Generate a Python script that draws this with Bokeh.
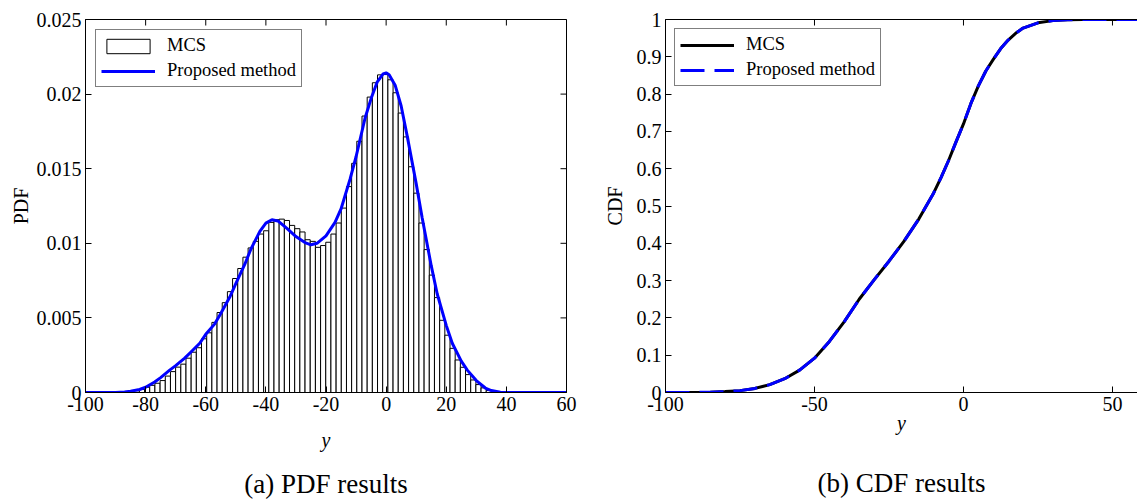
import math
from bokeh.plotting import figure
from bokeh.layouts import row
from bokeh.models import LinearAxis, FixedTicker, Range1d, Legend, LegendItem
from bokeh.embed import file_html
from bokeh.resources import INLINE

FONT = "Liberation Serif"

# ---------------- data ----------------
# MCS histogram (normalised), bin centres and heights
hist_centers = [-89.82, -88.10, -86.38, -84.66, -82.94, -81.21, -79.49, -77.77, -76.05, -74.32,
                -72.60, -70.88, -69.16, -67.43, -65.71, -63.99, -62.27, -60.55, -58.82, -57.10,
                -55.38, -53.66, -51.94, -50.21, -48.49, -46.77, -45.05, -43.33, -41.60, -39.88,
                -38.16, -36.44, -34.72, -32.99, -31.27, -29.55, -27.83, -26.11, -24.38, -22.66,
                -20.94, -19.22, -17.50, -15.77, -14.05, -12.33, -10.61, -8.89, -7.16, -5.44,
                -3.72, -2.00, -0.28, 1.45, 3.17, 4.89, 6.61, 8.33, 10.06, 11.78,
                13.50, 15.22, 16.94, 18.67, 20.39, 22.11, 23.83, 25.55, 27.28, 29.00,
                30.72, 32.44, 34.16, 35.89, 37.61]
hist_pdf = [0.0, 0.00001, 0.00003, 0.00006, 0.00012, 0.00020, 0.00035, 0.00048, 0.00062, 0.00080,
            0.00110, 0.00140, 0.00170, 0.00190, 0.00230, 0.00270, 0.00300, 0.00360, 0.00400, 0.00470,
            0.00536, 0.00602, 0.00676, 0.00764, 0.00831, 0.00907, 0.00969, 0.01013, 0.01062, 0.01084,
            0.01140, 0.01158, 0.01162, 0.01153, 0.01120, 0.01098, 0.01076, 0.01024, 0.01013, 0.00973,
            0.00985, 0.01007, 0.01062, 0.01136, 0.01236, 0.01380, 0.01536, 0.01684, 0.01853, 0.01980,
            0.02076, 0.02129, 0.02131, 0.02096, 0.02009, 0.01873, 0.01713, 0.01513, 0.01336, 0.01136,
            0.00958, 0.00787, 0.00636, 0.00484, 0.00384, 0.00296, 0.00218, 0.00169, 0.00120, 0.00084,
            0.00053, 0.00031, 0.00013, 0.00004, 0.00001]
BIN_WIDTH = 1.722

# Proposed method PDF
pdf_x = [-100, -90, -87, -85, -82, -80, -77, -75, -72, -70,
         -67, -65, -62, -60, -57, -55, -52, -50, -47, -45,
         -42, -40, -38, -36, -33, -30, -27, -25, -23, -20,
         -17, -15, -12, -10, -7, -5, -3, -1, 0, 1,
         3, 5, 7, 10, 12, 15, 17, 20, 22, 25,
         27, 30, 33, 35, 38, 40, 50, 60]
pdf_y = [0, 0, 0.00003, 0.00008, 0.0002, 0.00035, 0.0007, 0.001, 0.0015, 0.0018,
         0.0023, 0.0027, 0.0033, 0.0039, 0.0046, 0.0053, 0.0064, 0.0073, 0.0086, 0.0096,
         0.0108, 0.01135, 0.01158, 0.0115, 0.0110, 0.01045, 0.01005, 0.0099, 0.0100, 0.0105,
         0.0114, 0.0123, 0.0143, 0.0158, 0.0184, 0.0197, 0.0208, 0.02135, 0.02142, 0.0213,
         0.0206, 0.0192, 0.0172, 0.0140, 0.0117, 0.0085, 0.0066, 0.0045, 0.0033, 0.0021,
         0.0015, 0.0008, 0.0003, 0.00013, 0.00002, 0, 0, 0]

# CDF curves
cdf_x = [-100, -90, -85, -80, -75, -70, -65, -60, -55, -50,
         -45, -40, -35, -30, -25, -20, -15, -10, -7.5, -5,
         -2.5, 0, 2.5, 5, 7.5, 10, 12.5, 15, 17.5, 20,
         25, 30, 35, 40, 60]
cdf_mcs = [0, 0.0003, 0.001, 0.0025, 0.005, 0.011, 0.021, 0.037, 0.06, 0.092,
           0.137, 0.19, 0.25, 0.302, 0.352, 0.405, 0.465, 0.535, 0.577, 0.622,
           0.672, 0.72, 0.775, 0.822, 0.862, 0.893, 0.922, 0.945, 0.963, 0.977,
           0.991, 0.997, 0.9995, 1.0, 1.0]
cdf_proposed = [0, 0.0003, 0.001, 0.0025, 0.005, 0.011, 0.021, 0.037, 0.06, 0.092,
                0.137, 0.19, 0.25, 0.302, 0.352, 0.405, 0.465, 0.535, 0.577, 0.622,
                0.672, 0.72, 0.775, 0.822, 0.862, 0.893, 0.922, 0.945, 0.963, 0.977,
                0.991, 0.997, 0.9995, 1.0, 1.0]

# ticks
pdf_xlim = (-100, 60)
pdf_ylim = (0, 0.025)
pdf_xticks = [-100, -80, -60, -40, -20, 0, 20, 40, 60]
pdf_xtick_labels = ["-100", "-80", "-60", "-40", "-20", "0", "20", "40", "60"]
pdf_yticks = [0, 0.005, 0.01, 0.015, 0.02, 0.025]
pdf_ytick_labels = ["0", "0.005", "0.01", "0.015", "0.02", "0.025"]
cdf_xlim = (-100, 58.4)
cdf_ylim = (0, 1)
cdf_xticks = [-100, -50, 0, 50]
cdf_xtick_labels = ["-100", "-50", "0", "50"]
cdf_yticks = [0, 0.1, 0.2, 0.3, 0.4, 0.5, 0.6, 0.7, 0.8, 0.9, 1]
cdf_ytick_labels = ["0", "0.1", "0.2", "0.3", "0.4", "0.5", "0.6", "0.7", "0.8", "0.9", "1"]


def style_axis(ax, ticks, labels):
    ax.ticker = FixedTicker(ticks=ticks)
    ax.major_tick_in = 6
    ax.major_tick_out = 0
    ax.minor_tick_in = 0
    ax.minor_tick_out = 0
    ax.axis_line_color = "black"
    ax.axis_line_width = 1
    ax.major_tick_line_color = "black"
    ax.major_tick_line_width = 1
    ax.major_label_text_font = FONT
    ax.major_label_text_color = "black"
    ax.major_label_text_font_size = "20px"
    ax.major_label_standoff = 4
    ax.major_label_overrides = {t: l for t, l in zip(ticks, labels)}
    ax.axis_label_text_font = FONT
    ax.axis_label_text_font_size = "20px"
    ax.axis_label_text_color = "black"


def add_caption(p, text, standoff):
    cap = LinearAxis(ticker=FixedTicker(ticks=[]), axis_line_color=None,
                     major_tick_line_color=None, minor_tick_line_color=None,
                     major_label_standoff=0, axis_label=text,
                     axis_label_standoff=standoff, axis_label_text_font=FONT,
                     axis_label_text_font_size="27px", axis_label_text_color="black",
                     axis_label_text_font_style="normal")
    p.add_layout(cap, "below")


def mirror_ticks(p, xticks, ytop, yticks=None, xright=None):
    # inward tick marks on the top (and right) frame edges
    p.scatter(x=xticks, y=[ytop] * len(xticks), marker="dash", size=12,
              angle=math.pi / 2, line_color="black", line_width=1)
    if yticks is not None:
        p.scatter(x=[xright] * len(yticks), y=yticks, marker="dash", size=12,
                  angle=0, line_color="black", line_width=1)


def style_legend(leg, margin):
    leg.location = "top_left"
    leg.margin = margin
    leg.padding = 5
    leg.spacing = 4
    leg.glyph_width = 54
    leg.glyph_height = 18
    leg.label_height = 20
    leg.label_standoff = 12
    leg.label_text_font = FONT
    leg.label_text_font_size = "18.5px"
    leg.label_text_color = "black"
    leg.border_line_color = "black"
    leg.border_line_width = 1
    leg.background_fill_color = "white"
    leg.background_fill_alpha = 1.0


# ---------------- (a) PDF ----------------
p1 = figure(width=595, height=501, x_range=Range1d(*pdf_xlim), y_range=Range1d(*pdf_ylim),
            output_backend="svg", toolbar_location=None,
            min_border_left=85, min_border_right=29, min_border_top=17, min_border_bottom=109)
p1.grid.visible = False
p1.outline_line_color = "black"
p1.outline_line_width = 1
p1.background_fill_color = "white"
p1.border_fill_color = "white"

hist_r = p1.vbar(x=hist_centers, top=hist_pdf, bottom=0, width=BIN_WIDTH,
                 fill_color="white", line_color="black", line_width=1)
pdf_r = p1.line(pdf_x, pdf_y, line_color="#0000ff", line_width=3)
mirror_ticks(p1, pdf_xticks, pdf_ylim[1], pdf_yticks, pdf_xlim[1])

style_axis(p1.xaxis[0], pdf_xticks, pdf_xtick_labels)
style_axis(p1.yaxis[0], pdf_yticks, pdf_ytick_labels)
p1.xaxis[0].axis_label = "y"
p1.xaxis[0].axis_label_text_font_style = "italic"
p1.xaxis[0].axis_label_standoff = 15
p1.yaxis[0].axis_label = "PDF"
p1.yaxis[0].axis_label_text_font_style = "normal"
p1.yaxis[0].axis_label_standoff = 2
add_caption(p1, "(a) PDF results", 15)

leg1 = Legend(items=[LegendItem(label="MCS", renderers=[hist_r]),
                     LegendItem(label="Proposed method", renderers=[pdf_r])])
style_legend(leg1, 10)
p1.add_layout(leg1)

# ---------------- (b) CDF ----------------
p2 = figure(width=542, height=501, x_range=Range1d(*cdf_xlim), y_range=Range1d(*cdf_ylim),
            output_backend="svg", toolbar_location=None,
            min_border_left=70, min_border_right=0, min_border_top=19, min_border_bottom=108)
p2.grid.visible = False
p2.outline_line_color = None
p2.background_fill_color = "white"
p2.border_fill_color = "white"

mcs_r = p2.line(cdf_x, cdf_mcs, line_color="black", line_width=3)
prop_r = p2.line(cdf_x, cdf_proposed, line_color="#0000ff", line_width=3, line_dash="24 10")
mirror_ticks(p2, cdf_xticks, cdf_ylim[1])

style_axis(p2.xaxis[0], cdf_xticks, cdf_xtick_labels)
style_axis(p2.yaxis[0], cdf_yticks, cdf_ytick_labels)
p2.xaxis[0].axis_label = "y"
p2.xaxis[0].axis_label_text_font_style = "italic"
p2.xaxis[0].axis_label_standoff = -2
p2.yaxis[0].axis_label = "CDF"
p2.yaxis[0].axis_label_text_font_style = "normal"
p2.yaxis[0].axis_label_standoff = 8
top2 = LinearAxis(ticker=FixedTicker(ticks=[]), axis_line_color="black",
                  major_tick_line_color=None, minor_tick_line_color=None)
p2.add_layout(top2, "above")
add_caption(p2, "(b) CDF results", 31)

leg2 = Legend(items=[LegendItem(label="MCS", renderers=[mcs_r]),
                     LegendItem(label="Proposed method", renderers=[prop_r])])
style_legend(leg2, 9)
p2.add_layout(leg2)

layout = row(p1, p2)
open("out.html", "w").write(file_html(layout, INLINE))
